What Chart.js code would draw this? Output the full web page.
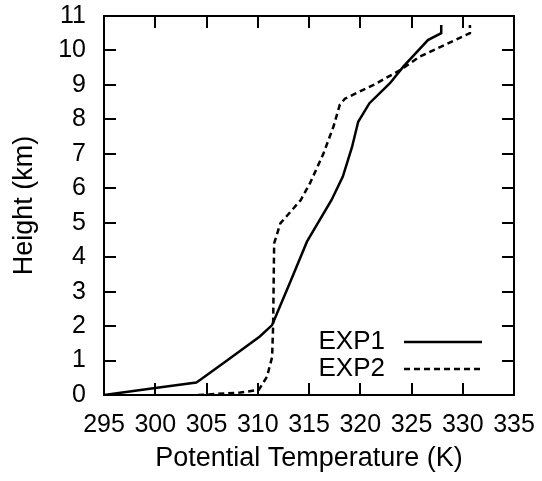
<!DOCTYPE html>
<html><head><meta charset="utf-8">
<script src="https://cdn.jsdelivr.net/npm/chart.js@4/dist/chart.umd.min.js"></script>
<style>html,body{margin:0;padding:0;background:#fff;}#wrap{width:542px;height:481px;}</style>
</head><body><div id="wrap"><canvas id="c" width="542" height="481"></canvas></div>
<script>
const seriesNames = ['EXP1', 'EXP2'];
const exp1X = [295, 300, 304, 304.4, 307, 310.2, 311.4, 313.2, 314.8, 317.2, 318.3, 319.2, 319.8, 320.9, 322.9, 324.2, 326.6, 327.9, 327.9];
const exp1Y = [0, 0.2, 0.36, 0.44, 1.0, 1.7, 2.03, 3.3, 4.45, 5.66, 6.34, 7.2, 7.93, 8.47, 9.05, 9.53, 10.3, 10.5, 10.74];
const exp2X = [304.2, 308.3, 310.1, 310.9, 311.4, 311.5, 311.6, 312.2, 314.2, 315.1, 316.4, 317.4, 318.0, 318.5, 321.3, 323.9, 325.8, 330.7, 330.7];
const exp2Y = [0, 0.07, 0.15, 0.53, 1.1, 2.0, 4.4, 4.98, 5.66, 6.15, 7.0, 7.8, 8.42, 8.6, 9.0, 9.43, 9.82, 10.5, 10.74];
const xTicks = [295, 300, 305, 310, 315, 320, 325, 330, 335];
const yTicks = [0,1,2,3,4,5,6,7,8,9,10,11];
const xTitle = 'Potential Temperature (K)';
const yTitle = 'Height (km)';

const FONT = 'Liberation Sans, Arial, sans-serif';
const pts = (xs, ys) => xs.map((x, i) => ({x: x, y: ys[i]}));
const noPad = s => { s.paddingTop = 0; s.paddingBottom = 0; s.paddingLeft = 0; s.paddingRight = 0; };

const frame = {
  id: 'frame',
  afterDatasetsDraw(chart) {
    const {ctx, chartArea: a, scales: {x, y}} = chart;
    ctx.save();
    ctx.strokeStyle = '#000';
    ctx.lineWidth = 2;
    ctx.beginPath();
    const T = 12;
    xTicks.forEach(v => {
      const px = Math.round(x.getPixelForValue(v));
      ctx.moveTo(px, a.bottom); ctx.lineTo(px, a.bottom - T);
      ctx.moveTo(px, a.top); ctx.lineTo(px, a.top + T);
    });
    yTicks.forEach(v => {
      const py = Math.round(y.getPixelForValue(v));
      ctx.moveTo(a.left, py); ctx.lineTo(a.left + T, py);
      ctx.moveTo(a.right, py); ctx.lineTo(a.right - T, py);
    });
    ctx.stroke();
    ctx.strokeRect(a.left, a.top, a.right - a.left, a.bottom - a.top);
    // legend
    ctx.font = '26px ' + FONT;
    ctx.fillStyle = '#000';
    ctx.textAlign = 'right';
    ctx.textBaseline = 'middle';
    chart.data.datasets.forEach((ds, i) => {
      const ly = 342 + i * 27;
      ctx.fillText(ds.label, 385, ly);
      ctx.beginPath();
      ctx.lineWidth = ds.borderWidth;
      ctx.setLineDash(ds.borderDash || []);
      ctx.moveTo(404, ly); ctx.lineTo(482, ly);
      ctx.stroke();
    });
    ctx.restore();
  }
};

new Chart(document.getElementById('c'), {
  type: 'scatter',
  data: {
    datasets: [
      {label: seriesNames[0], data: pts(exp1X, exp1Y), showLine: true, borderColor: '#000', borderWidth: 2.5, pointRadius: 0, tension: 0},
      {label: seriesNames[1], data: pts(exp2X, exp2Y), showLine: true, borderColor: '#000', borderWidth: 2.5, borderDash: [6, 4], pointRadius: 0, tension: 0}
    ]
  },
  options: {
    responsive: false,
    animation: false,
    layout: {padding: {left: 0, right: 28, top: 16, bottom: 0}},
    plugins: {legend: {display: false}, tooltip: {enabled: false}},
    scales: {
      x: {
        type: 'linear', min: 295, max: 335,
        afterBuildTicks: s => { s.ticks = xTicks.map(v => ({value: v})); },
        afterFit: s => { s.height = 86; noPad(s); },
        grid: {display: false, drawTicks: false},
        border: {display: false},
        ticks: {color: '#000', font: {family: FONT, size: 25}, padding: 15, maxRotation: 0, autoSkip: false},
        title: {display: true, text: xTitle, color: '#000', font: {family: FONT, size: 27}, padding: {top: 0, bottom: 6}}
      },
      y: {
        type: 'linear', min: 0, max: 11,
        afterBuildTicks: s => { s.ticks = yTicks.map(v => ({value: v})); },
        afterFit: s => { s.width = 104; noPad(s); },
        grid: {display: false, drawTicks: false},
        border: {display: false},
        ticks: {color: '#000', font: {family: FONT, size: 25}, padding: 18, autoSkip: false},
        title: {display: true, text: yTitle, color: '#000', font: {family: FONT, size: 27}, padding: {top: 8, bottom: 0}}
      }
    }
  },
  plugins: [frame]
});
</script>
</body></html>
